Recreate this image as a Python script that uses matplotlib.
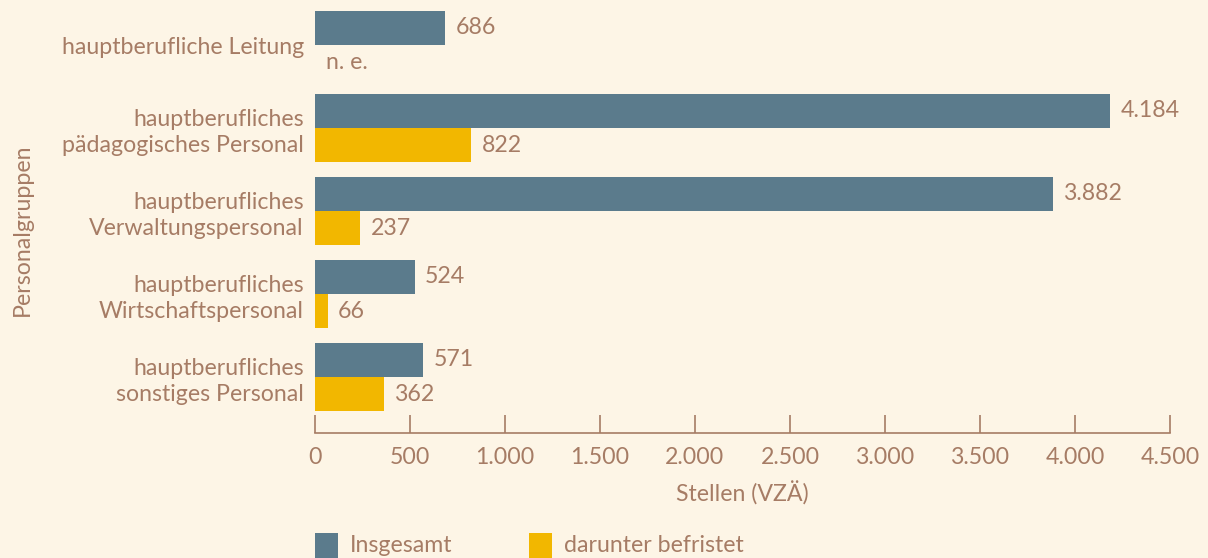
import matplotlib
matplotlib.use("Agg")
import matplotlib.pyplot as plt
from matplotlib.patches import Rectangle
import numpy as np

categories = ["hauptberufliche Leitung",
              "hauptberufliches\npädagogisches Personal",
              "hauptberufliches\nVerwaltungspersonal",
              "hauptberufliches\nWirtschaftspersonal",
              "hauptberufliches\nsonstiges Personal"]
insgesamt = [686, 4184, 3882, 524, 571]
befristet = [None, 822, 237, 66, 362]
xticks = [0, 500, 1000, 1500, 2000, 2500, 3000, 3500, 4000, 4500]
series_names = ["Insgesamt", "darunter befristet"]

BG = "#FDF5E6"
BLUE = "#5B7B8C"
YELLOW = "#F2B700"
TXT = "#A67C65"

plt.rcParams['font.family'] = ['Lato', 'DejaVu Sans']

def fmt(v):
    return f"{v:,}".replace(",", ".")

W, H = 1208, 558
fig = plt.figure(figsize=(12.08, 5.58), dpi=100, facecolor=BG)
ax = fig.add_axes([315/W, 1-433/H, (1170-315)/W, (433-5)/H])
ax.set_facecolor(BG)

y = np.arange(len(categories))
h = 0.41
off = 0.205
ax.barh(y - off, insgesamt, height=h, color=BLUE)
bef_vals = [v if v is not None else 0 for v in befristet]
ax.barh(y + off, bef_vals, height=h, color=YELLOW)

fs = 16.7
for i, v in enumerate(insgesamt):
    ax.text(v + 55, y[i] - off, fmt(v), va="center", ha="left", color=TXT, fontsize=fs)
for i, v in enumerate(befristet):
    if v is None:
        ax.text(60, y[i] + off, "n. e.", va="center", ha="left", color=TXT, fontsize=fs)
    else:
        ax.text(v + 55, y[i] + off, fmt(v), va="center", ha="left", color=TXT, fontsize=fs)

ax.set_xlim(0, 4500)
ax.set_ylim(4 + (433-377)/83, -(45-5)/83)
ax.set_yticks(y)
ax.set_yticklabels(categories, fontsize=fs, color=TXT, linespacing=1.3)
ax.tick_params(axis="y", length=0, pad=8)
ax.set_xticks(xticks)
ax.set_xticklabels([fmt(t) for t in xticks], fontsize=fs, color=TXT)
ax.tick_params(axis="x", direction="in", length=13, width=1.2, color=TXT, pad=10)
for s in ["top", "right", "left"]:
    ax.spines[s].set_visible(False)
ax.spines["bottom"].set_color(TXT)
ax.spines["bottom"].set_linewidth(1.2)

ax.set_xlabel("Stellen (VZÄ)", fontsize=fs, color=TXT, labelpad=10)
fig.text(22/W, 1-230/H, "Personalgruppen", rotation=90, ha="center", va="center",
         fontsize=fs, color=TXT)

# legend (drawn as figure artists)
legend_items = [(315, BLUE, series_names[0]), (529, YELLOW, series_names[1])]
for x0, col, name in legend_items:
    fig.patches.append(Rectangle((x0/W, 1-558/H), 23/W, 25/H, transform=fig.transFigure,
                                 facecolor=col, edgecolor="none"))
    fig.text((x0+35)/W, 1-546/H, name, ha="left", va="center", fontsize=fs, color=TXT)

fig.savefig("out.png", dpi=100, facecolor=BG)
